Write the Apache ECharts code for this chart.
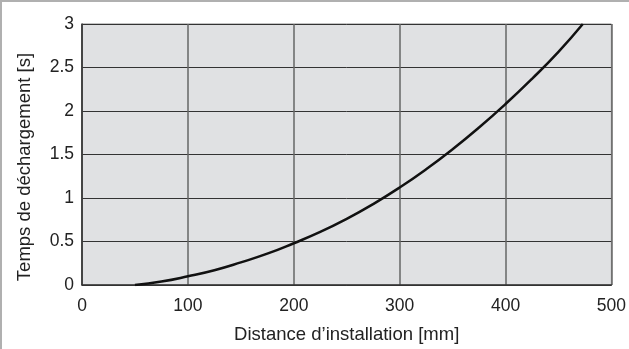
<!DOCTYPE html>
<html>
<head>
<meta charset="utf-8">
<script src="https://cdn.jsdelivr.net/npm/echarts@6/dist/echarts.min.js"></script>
<style>
html,body{margin:0;padding:0;background:#fff;}
#wrap{position:absolute;left:0;top:0;width:629px;height:349px;box-sizing:border-box;border-top:2px solid #b0b0b0;border-left:2px solid #b0b0b0;}
#c{position:absolute;left:0;top:0;width:629px;height:349px;}
</style>
</head>
<body>
<div id="wrap"></div>
<div id="c"></div>
<script>
const distances = [50, 75, 100, 125, 150, 175, 200, 225, 250, 275, 300, 325, 350, 375, 400, 425, 450, 473];
const times = [0, 0.04, 0.1, 0.17, 0.26, 0.36, 0.48, 0.61, 0.76, 0.93, 1.12, 1.33, 1.56, 1.81, 2.08, 2.37, 2.68, 3.0];
const xTitle = 'Distance d\u2019installation [mm]';
const yTitle = 'Temps de déchargement [s]';

const chart = echarts.init(document.getElementById('c'), null, {renderer: 'canvas'});
const font = 'Liberation Sans, Arial, Helvetica, sans-serif';
chart.setOption({
  animation: false,
  grid: {left: 82, right: 17, top: 24, bottom: 61, show: true, backgroundColor: '#e0e1e3', borderColor: '#888', borderWidth: 1},
  graphic: [{
    type: 'text', rotation: Math.PI / 2,
    x: 25, y: 167,
    style: {text: yTitle, fontFamily: font, fontSize: 18.5, fill: '#222', textAlign: 'center', textVerticalAlign: 'middle'}
  }],
  xAxis: {
    type: 'value', min: 0, max: 500, interval: 100,
    name: xTitle, nameLocation: 'middle', nameGap: 40,
    nameTextStyle: {fontFamily: font, fontSize: 18.5, color: '#222'},
    axisLine: {show: true, lineStyle: {color: '#333', width: 1.5}},
    axisTick: {show: false},
    axisLabel: {fontFamily: font, fontSize: 17.5, color: '#222', margin: 12},
    splitLine: {show: true, lineStyle: {color: '#666', width: 1.5}}
  },
  yAxis: {
    type: 'value', min: 0, max: 3, interval: 0.5,
    axisLine: {show: true, lineStyle: {color: '#333', width: 1.5}},
    axisTick: {show: false},
    axisLabel: {fontFamily: font, fontSize: 17.5, color: '#222', margin: 8},
    splitLine: {show: true, lineStyle: {color: '#333', width: 1}}
  },
  series: [{
    type: 'line',
    data: distances.map((d, i) => [d, times[i]]),
    smooth: true,
    showSymbol: false,
    lineStyle: {color: '#111', width: 2.5}
  }]
});
</script>
</body>
</html>
